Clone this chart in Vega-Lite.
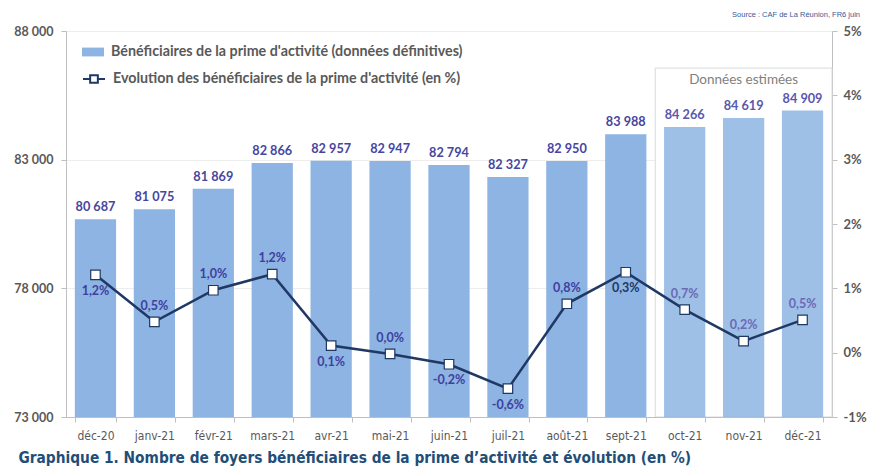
{
  "$schema": "https://vega.github.io/schema/vega-lite/v6.json",
  "autosize": {"type": "none"},
  "padding": {"left": 66, "top": 31, "right": 42, "bottom": 57},
  "width": 766,
  "height": 386,
  "title": {"text": "Source : CAF de La Réunion, FR6 juin", "anchor": "end", "fontSize": 7.5, "font": "Liberation Sans", "fontWeight": "normal", "color": "#3B5998", "offset": 7, "dx": -6},
  "data": {"values": [
    {"mois": "déc-20", "benef": 80687, "evol": 1.21, "lab": "1,2%", "statut": "def"},
    {"mois": "janv-21", "benef": 81075, "evol": 0.48, "lab": "0,5%", "statut": "def"},
    {"mois": "févr-21", "benef": 81869, "evol": 0.97, "lab": "1,0%", "statut": "def"},
    {"mois": "mars-21", "benef": 82866, "evol": 1.22, "lab": "1,2%", "statut": "def"},
    {"mois": "avr-21", "benef": 82957, "evol": 0.11, "lab": "0,1%", "statut": "def"},
    {"mois": "mai-21", "benef": 82947, "evol": -0.02, "lab": "0,0%", "statut": "def"},
    {"mois": "juin-21", "benef": 82794, "evol": -0.18, "lab": "-0,2%", "statut": "def"},
    {"mois": "juil-21", "benef": 82327, "evol": -0.56, "lab": "-0,6%", "statut": "def"},
    {"mois": "août-21", "benef": 82950, "evol": 0.76, "lab": "0,8%", "statut": "def"},
    {"mois": "sept-21", "benef": 83988, "evol": 1.25, "lab": "0,3%", "statut": "def"},
    {"mois": "oct-21", "benef": 84266, "evol": 0.67, "lab": "0,7%", "statut": "est"},
    {"mois": "nov-21", "benef": 84619, "evol": 0.18, "lab": "0,2%", "statut": "est"},
    {"mois": "déc-21", "benef": 84909, "evol": 0.51, "lab": "0,5%", "statut": "est"}
  ]},
  "encoding": {
    "x": {"field": "mois", "type": "nominal", "sort": null,
      "scale": {"domain": ["déc-20", "janv-21", "févr-21", "mars-21", "avr-21", "mai-21", "juin-21", "juil-21", "août-21", "sept-21", "oct-21", "nov-21", "déc-21"], "paddingInner": 0.3, "paddingOuter": 0.15},
      "axis": {"labelAngle": 0, "labelFont": "DejaVu Sans Condensed, Liberation Sans, sans-serif", "labelFontSize": 12, "labelColor": "#595959", "labelPadding": 8,
        "tickBand": "extent", "tickColor": "#BFBFBF", "tickSize": 5, "domainColor": "#BFBFBF",
        "title": "Graphique 1. Nombre de foyers bénéficiaires de la prime d’activité et évolution (en %)",
        "titleFont": "DejaVu Sans Condensed, Liberation Sans, sans-serif", "titleFontSize": 15.3, "titleFontWeight": "bold", "titleColor": "#1F4E79",
        "titleAnchor": "start", "titleAlign": "left", "titleBaseline": "middle", "titleX": -48, "titleY": 40}}
  },
  "layer": [
    {
      "layer": [
        {
          "data": {"values": [{"note": "Données estimées", "debut": "oct-21", "fin": "déc-21"}]},
          "mark": {"type": "rect", "fill": "#FFFFFF", "stroke": "#D9D9D9", "strokeWidth": 1},
          "encoding": {
            "x": {"datum": "oct-21", "bandPosition": -0.2143},
            "x2": {"datum": "déc-21", "bandPosition": 1.2143},
            "y": {"datum": 86560, "type": "quantitative"},
            "y2": {"datum": 73000}
          }
        },
        {
          "data": {"values": [{"note": "Données estimées"}]},
          "mark": {"type": "text", "font": "Lato", "fontWeight": "normal", "fontSize": 13.5, "color": "#7F7F7F", "baseline": "middle"},
          "encoding": {
            "x": {"datum": "nov-21"},
            "y": {"datum": 86100, "type": "quantitative"},
            "text": {"field": "note"}
          }
        },
        {
          "mark": {"type": "bar"},
          "encoding": {
            "y": {"field": "benef", "type": "quantitative", "scale": {"domain": [73000, 88000], "zero": false, "nice": false, "clamp": true},
              "axis": {"title": null, "values": [73000, 78000, 83000, 88000], "labelExpr": "floor(datum.value / 1000) + ' 000'", "labelFont": "Lato", "labelFontWeight": "bold", "labelFontSize": 12.5, "labelColor": "#595959", "labelPadding": 8,
                "grid": true, "gridColor": "#EDEDED", "tickColor": "#BFBFBF", "tickSize": 5, "domainColor": "#BFBFBF"}},
            "fill": {"datum": "Bénéficiaires de la prime d'activité (données définitives)", "scale": {"range": ["#8DB4E2"]},
              "legend": {"orient": "none", "legendX": 16, "legendY": 10, "title": null, "padding": 0,
                "symbolType": "M-1,-0.4H1V0.4H-1Z", "symbolSize": 484, "symbolStrokeWidth": 0,
                "labelFont": "Lato", "labelFontSize": 14.3, "labelFontWeight": "bold", "labelColor": "#595959", "labelOffset": 7, "labelLimit": 600}},
            "fillOpacity": {"condition": {"test": "datum.statut == 'est'", "value": 0.85}, "value": 1}
          }
        },
        {
          "mark": {"type": "text", "font": "Lato", "fontWeight": "bold", "fontSize": 12.7, "baseline": "bottom", "dy": -5},
          "encoding": {
            "y": {"field": "benef", "type": "quantitative", "title": null},
            "text": {"field": "benef", "type": "quantitative", "format": ","},
            "color": {"condition": {"test": "datum.statut == 'est'", "value": "#5858AE"}, "value": "#4646A0"}
          }
        }
      ]
    },
    {
      "layer": [
        {
          "mark": {"type": "line", "strokeWidth": 2.5},
          "encoding": {
            "y": {"field": "evol", "type": "quantitative", "scale": {"domain": [-1, 5], "nice": false},
              "axis": {"orient": "right", "title": null, "values": [-1, 0, 1, 2, 3, 4, 5], "labelExpr": "datum.value + '%'",
                "labelFont": "Lato", "labelFontWeight": "bold", "labelFontSize": 13, "labelColor": "#595959", "labelPadding": 6,
                "grid": false, "tickColor": "#BFBFBF", "tickSize": 5, "domainColor": "#BFBFBF"}},
            "stroke": {"datum": "Evolution des bénéficiaires de la prime d'activité (en %)", "scale": {"range": ["#1F3864"]},
              "legend": {"orient": "none", "legendX": 16, "legendY": 36, "title": null, "padding": 0,
                "symbolType": "M-1,0H-0.35M0.35,0H1M-0.35,-0.35H0.35V0.35H-0.35Z", "symbolSize": 484, "symbolStrokeWidth": 2, "symbolFillColor": "#FFFFFF",
                "labelFont": "Lato", "labelFontSize": 14.3, "labelFontWeight": "bold", "labelColor": "#595959", "labelOffset": 7, "labelLimit": 600}}
          }
        },
        {
          "mark": {"type": "point", "shape": "square", "filled": true, "fill": "#FFFFFF", "stroke": "#1F3864", "strokeWidth": 1.2, "size": 90, "opacity": 1},
          "encoding": {
            "y": {"field": "evol", "type": "quantitative"}
          }
        },
        {
          "transform": [{"filter": {"not": {"field": "mois", "oneOf": ["déc-20", "avr-21", "juin-21", "juil-21", "sept-21"]}}}],
          "mark": {"type": "text", "font": "Lato", "fontWeight": "bold", "fontSize": 12.5, "baseline": "middle", "dy": -16},
          "encoding": {
            "y": {"field": "evol", "type": "quantitative"},
            "text": {"field": "lab"},
            "color": {"condition": {"test": "datum.statut == 'est'", "value": "#6A6AB8"}, "value": "#4040A0"}
          }
        },
        {
          "transform": [{"filter": {"field": "mois", "oneOf": ["déc-20", "avr-21", "juin-21", "juil-21", "sept-21"]}}],
          "mark": {"type": "text", "font": "Lato", "fontWeight": "bold", "fontSize": 12.5, "baseline": "middle", "dy": 16},
          "encoding": {
            "y": {"field": "evol", "type": "quantitative"},
            "text": {"field": "lab"},
            "color": {"condition": {"test": "datum.mois == 'sept-21'", "value": "#1F3864"}, "value": "#4040A0"}
          }
        }
      ]
    }
  ],
  "resolve": {"scale": {"y": "independent"}},
  "config": {
    "view": {"stroke": null},
    "locale": {"number": {"decimal": ",", "thousands": " ", "grouping": [3], "currency": ["", " €"]}}
  }
}
